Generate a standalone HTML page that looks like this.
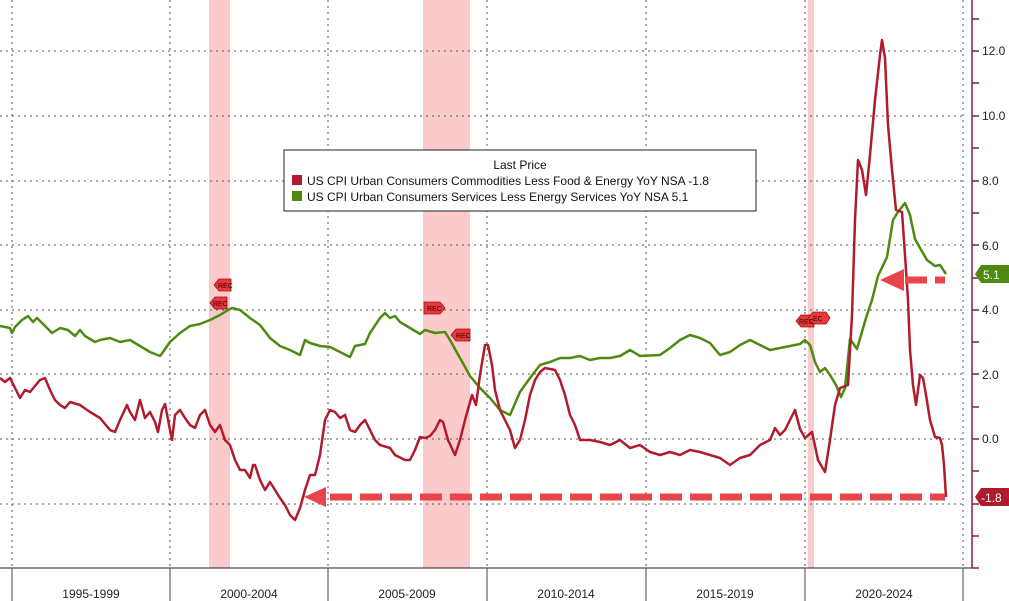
<!DOCTYPE html><html><head><style>body{margin:0;background:#fff}svg{display:block}text{font-family:"Liberation Sans",sans-serif}</style></head><body>
<svg width="1009" height="601" viewBox="0 0 1009 601" xmlns="http://www.w3.org/2000/svg">
<rect width="1009" height="601" fill="#fff"/>
<rect x="209" y="0" width="21" height="568" fill="#f9b9b9" opacity="0.75"/>
<rect x="423" y="0" width="47" height="568" fill="#f9b9b9" opacity="0.75"/>
<rect x="808" y="0" width="6" height="568" fill="#f9b9b9" opacity="0.75"/>
<g stroke="#555" stroke-width="1" stroke-dasharray="2,4">
<line x1="0" y1="51" x2="963" y2="51"/><line x1="0" y1="116" x2="963" y2="116"/><line x1="0" y1="181" x2="963" y2="181"/><line x1="0" y1="245" x2="963" y2="245"/><line x1="0" y1="310" x2="963" y2="310"/><line x1="0" y1="374" x2="963" y2="374"/><line x1="0" y1="439" x2="963" y2="439"/><line x1="0" y1="504" x2="963" y2="504"/>
<line x1="12" y1="0" x2="12" y2="568"/><line x1="170" y1="0" x2="170" y2="568"/><line x1="328" y1="0" x2="328" y2="568"/><line x1="487" y1="0" x2="487" y2="568"/><line x1="646" y1="0" x2="646" y2="568"/><line x1="805" y1="0" x2="805" y2="568"/><line x1="963" y1="0" x2="963" y2="568"/>
</g>
<line x1="0" y1="568" x2="972" y2="568" stroke="#222"/>
<g stroke="#444"><line x1="12" y1="568" x2="12" y2="601"/><line x1="170" y1="568" x2="170" y2="601"/><line x1="328" y1="568" x2="328" y2="601"/><line x1="487" y1="568" x2="487" y2="601"/><line x1="646" y1="568" x2="646" y2="601"/><line x1="805" y1="568" x2="805" y2="601"/><line x1="963" y1="568" x2="963" y2="601"/></g>
<g font-size="12" fill="#222" text-anchor="middle"><text x="91" y="598">1995-1999</text><text x="249" y="598">2000-2004</text><text x="407" y="598">2005-2009</text><text x="566" y="598">2010-2014</text><text x="725" y="598">2015-2019</text><text x="884" y="598">2020-2024</text></g>
<line x1="972" y1="0" x2="972" y2="568" stroke="#8b2035" stroke-width="1.5"/>
<g stroke="#8b2035" stroke-width="1.5"><line x1="972" y1="19" x2="979" y2="19"/><line x1="972" y1="51" x2="979" y2="51"/><line x1="972" y1="83" x2="979" y2="83"/><line x1="972" y1="116" x2="979" y2="116"/><line x1="972" y1="148" x2="979" y2="148"/><line x1="972" y1="181" x2="979" y2="181"/><line x1="972" y1="213" x2="979" y2="213"/><line x1="972" y1="245" x2="979" y2="245"/><line x1="972" y1="278" x2="979" y2="278"/><line x1="972" y1="310" x2="979" y2="310"/><line x1="972" y1="342" x2="979" y2="342"/><line x1="972" y1="374" x2="979" y2="374"/><line x1="972" y1="407" x2="979" y2="407"/><line x1="972" y1="439" x2="979" y2="439"/><line x1="972" y1="471" x2="979" y2="471"/><line x1="972" y1="504" x2="979" y2="504"/><line x1="972" y1="536" x2="979" y2="536"/><line x1="972" y1="568" x2="979" y2="568"/></g>
<g font-size="12" fill="#222"><text x="982" y="55">12.0</text><text x="982" y="120">10.0</text><text x="982" y="185">8.0</text><text x="982" y="250">6.0</text><text x="982" y="314">4.0</text><text x="982" y="379">2.0</text><text x="982" y="443">0.0</text></g>
<polyline fill="none" stroke="#4f8a10" stroke-width="2.5" stroke-linejoin="round" points="0,326 10,328 12,333 15,327 22,320 28,316 33,322 37,318 45,326 52,333 60,328 68,330 75,336 80,330 85,336 95,342 100,340 110,338 120,342 130,340 140,346 150,352 160,356 163,352 170,342 180,333 190,326 200,324 210,320 220,315 228,310 232,308 240,310 250,318 260,325 270,338 280,346 290,350 300,355 305,340 310,343 320,346 330,347 340,352 350,357 355,346 365,344 370,333 380,318 385,313 390,318 395,316 400,322 410,328 420,334 425,330 435,333 445,332 450,340 460,358 470,376 480,388 490,398 500,410 510,415 520,392 530,378 540,365 550,362 560,358 570,358 580,356 590,360 600,358 610,358 620,356 630,350 640,356 660,355 670,348 680,340 690,335 700,338 710,343 720,355 730,352 740,345 750,340 760,345 770,350 780,348 790,346 800,344 805,340 810,345 815,362 820,372 825,368 830,375 836,385 841,397 845,388 850,339 857,349 866,318 872,300 878,276 887,257 893,220 898,212 905,203 910,215 915,239 920,248 927,260 935,266 940,265 946,274"/>
<polyline fill="none" stroke="#b01c2e" stroke-width="2.5" stroke-linejoin="round" points="0,378 5,382 10,378 15,388 20,398 25,390 30,392 40,380 45,378 50,390 55,400 60,405 65,408 70,402 80,405 90,412 100,418 110,430 115,432 120,420 127,405 130,412 135,420 140,400 145,418 150,412 155,422 158,432 162,410 165,404 170,430 172,440 175,415 180,410 185,418 190,425 195,428 200,415 205,410 210,425 215,432 220,425 225,440 230,445 235,460 240,470 245,470 250,478 253,465 255,465 260,480 265,490 270,482 275,490 280,498 285,505 290,515 295,520 300,508 305,490 310,475 315,475 320,455 325,420 330,410 335,412 340,418 345,415 350,430 355,432 360,425 365,420 370,430 375,440 380,445 390,448 395,455 405,460 410,460 415,450 420,437 425,438 430,436 435,430 440,420 443,422 448,440 455,455 460,440 465,420 472,395 476,405 480,375 485,345 488,345 492,365 495,390 500,410 505,420 510,430 515,448 520,440 525,420 530,395 535,380 540,372 545,368 555,370 560,380 565,395 570,415 575,425 580,440 590,440 600,442 610,445 620,440 630,448 640,445 650,452 660,455 670,452 680,455 690,450 700,452 710,455 720,458 730,465 740,458 750,455 760,445 770,440 775,428 780,435 785,430 790,420 795,410 800,429 805,438 812,432 818,460 825,472 830,440 835,405 840,388 848,385 852,315 855,220 858,160 862,170 866,195 870,155 875,100 880,55 882,40 885,58 888,125 892,170 896,210 902,212 905,255 908,300 910,350 913,385 916,405 920,375 923,378 926,395 930,420 935,437 940,438 942,445 944,465 946,497"/>
<g fill="#e8383c" stroke="#a01010" stroke-width="0.8" font-size="7">
<polygon points="214,285 219,279 231,279 231,291 219,291"/><polygon points="210,303 215,297 227,297 227,309 215,309"/><polygon points="424,302 440,302 445,308 440,314 424,314"/><polygon points="451,335 456,329 470,329 470,341 456,341"/><polygon points="796,321 801,315 814,315 814,327 801,327"/><polygon points="808,318 813,312 826,312 830,318 826,324 813,324"/></g>
<g font-size="7" fill="#300"><text x="218" y="288">REC</text><text x="213" y="306">REC</text><text x="427" y="311">REC</text><text x="456" y="338">REC</text><text x="799" y="324">REC</text><text x="813" y="321">EC</text></g>
<line x1="330" y1="497" x2="945" y2="497" stroke="#e8454a" stroke-width="7" stroke-dasharray="22,8"/>
<polygon points="304,497 326,487 326,507" fill="#e8454a"/>
<line x1="905" y1="280" x2="945" y2="280" stroke="#e8454a" stroke-width="7" stroke-dasharray="22,8"/>
<polygon points="880,280 904,269 904,291" fill="#e8454a"/>
<polygon points="975,274 981,265 1009,265 1009,283 981,283" fill="#4f8a10"/><text x="983" y="279" font-size="12" fill="#fff">5.1</text>
<polygon points="975,497 981,488 1009,488 1009,506 981,506" fill="#b01c2e"/><text x="981" y="502" font-size="12" fill="#fff">-1.8</text>
<rect x="284" y="150" width="472" height="61" fill="#fff" stroke="#222"/>
<text x="520" y="169" font-size="12" text-anchor="middle" fill="#111">Last Price</text>
<rect x="292" y="175" width="10" height="10" fill="#b01c2e"/><rect x="292" y="191" width="10" height="10" fill="#4f8a10"/>
<text x="307" y="185" font-size="12" fill="#111">US CPI Urban Consumers Commodities Less Food &amp; Energy YoY NSA  -1.8</text>
<text x="307" y="201" font-size="12" fill="#111">US CPI Urban Consumers Services Less Energy Services YoY NSA     5.1</text>
</svg></body></html>
